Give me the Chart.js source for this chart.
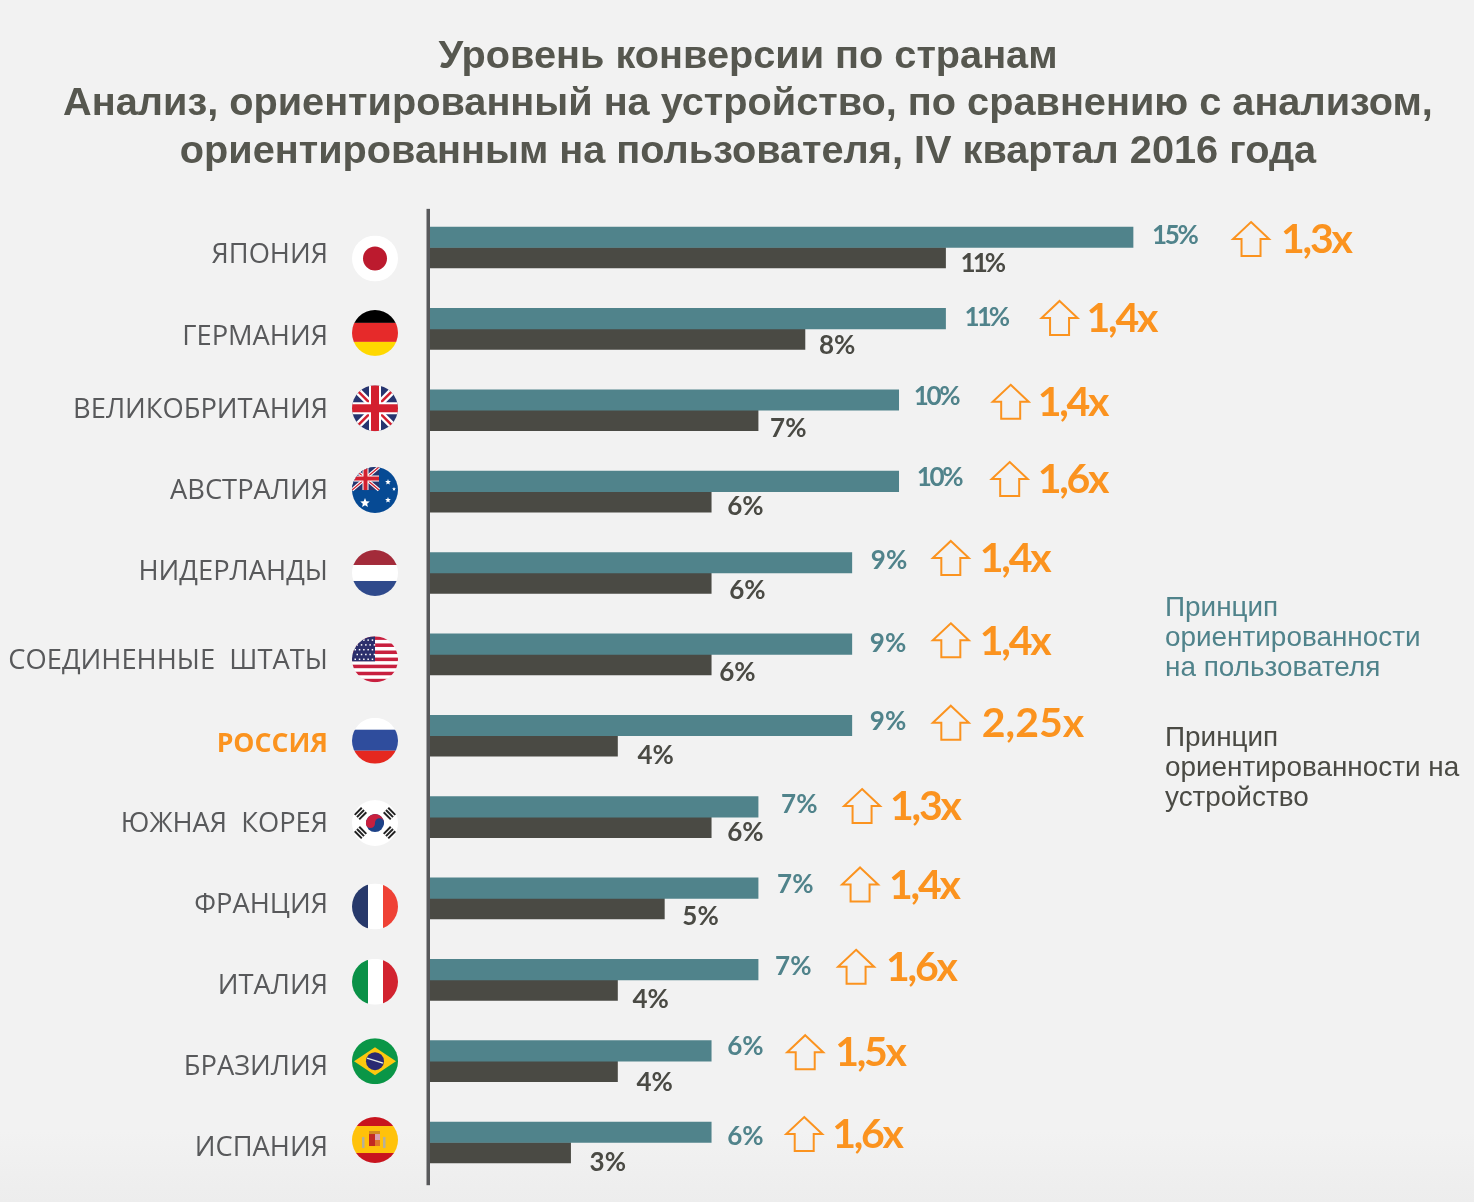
<!DOCTYPE html>
<html lang="ru">
<head>
<meta charset="utf-8">
<title>Уровень конверсии по странам</title>
<script src="https://cdn.jsdelivr.net/npm/chart.js@4/dist/chart.umd.min.js"></script>
<style>
  html, body { margin: 0; padding: 0; background: #f2f2f2; }
  body { height: 1202px; background: linear-gradient(#f2f2f2 1130px, #ededed 1202px); }
  canvas { display: block; }
</style>
</head>
<body>
<canvas id="chart" width="1474" height="1202"></canvas>
<script>
const countries = ["ЯПОНИЯ", "ГЕРМАНИЯ", "ВЕЛИКОБРИТАНИЯ", "АВСТРАЛИЯ", "НИДЕРЛАНДЫ", "СОЕДИНЕННЫЕ  ШТАТЫ",
  "РОССИЯ", "ЮЖНАЯ  КОРЕЯ", "ФРАНЦИЯ", "ИТАЛИЯ", "БРАЗИЛИЯ", "ИСПАНИЯ"];
const userCentric = [15, 11, 10, 10, 9, 9, 9, 7, 7, 7, 6, 6];
const deviceCentric = [11, 8, 7, 6, 6, 6, 4, 6, 5, 4, 4, 3];
const multipliers = ["1,3x", "1,4x", "1,4x", "1,6x", "1,4x", "1,4x", "2,25x", "1,3x", "1,4x", "1,6x", "1,5x", "1,6x"];
const flags = ["jp", "de", "gb", "au", "nl", "us", "ru", "kr", "fr", "it", "br", "es"];
const titleLines = ["Уровень конверсии по странам",
  "Анализ, ориентированный на устройство, по сравнению с анализом,",
  "ориентированным на пользователя, IV квартал 2016 года"];
const userLegend = ["Принцип", "ориентированности", "на пользователя"];
const deviceLegend = ["Принцип", "ориентированности на", "устройство"];

// the annotations in the picture are hand placed, so each row has its own nudge
const userDx = [19, 19, 15, 18, 19, 18, 18, 23, 19, 17, 16, 16];
const userDy = [-12, -11.5, -13.5, -14, -12.5, -10.5, -14.5, -12.5, -13.5, -13.5, -14.5, -6];
const deviceDx = [15, 14, 12, 16, 18, 8, 20, 16, 18, 15, 19, 19];
const deviceDy = [16, 16.5, 18.5, 15, 17.5, 18.5, 19.5, 15.5, 18.5, 19.5, 21.5, 20];
const arrowDx = [118, 114, 112, 111, 99, 99, 99, 104, 102, 98, 94, 93];
const arrowDy = [-8.5, -11, -8.5, -12.6, -15, -14, -13, -11, -14, -13, -9, -8.5];
const multDx = [30, 27, 27, 28, 29, 29, 31, 28, 29, 30, 30, 28];
const multDy = [1, 1, 1, 1, 1, 1, 1, 1, 1, 1, 1, 1];
const nameDy = [7.5, 8, 0, -0.6, -1, 7, 9, 7, 7, 6, 6, 5.5];
const flagDy = [11, 4, -2, -1.6, 0, 5, 5, 6, 8, 2, 0, -2.5];

const TEAL = "#50838b";
const DARK = "#4a4a44";
const ORANGE = "#fb931f";
const GREY = "#58595b";

function text(ctx, str, x, y, font, color, align, spacing) {
  ctx.font = font;
  ctx.fillStyle = color;
  ctx.textAlign = align || "left";
  ctx.textBaseline = "middle";
  ctx.letterSpacing = (spacing || 0) + "px";
  ctx.fillText(str, x, y);
  ctx.letterSpacing = "0px";
}

// the reference face has a much narrower "1" than Lato, tighten strings that hold one
function tighten(str, k) {
  const ones = str.split("1").length - 1;
  return Math.max(-3, -k * ones / str.length);
}

function arrow(ctx, cx, cy) {
  ctx.beginPath();
  ctx.moveTo(cx, cy - 17);
  ctx.lineTo(cx + 18, cy);
  ctx.lineTo(cx + 9.5, cy);
  ctx.lineTo(cx + 9.5, cy + 17);
  ctx.lineTo(cx - 9.5, cy + 17);
  ctx.lineTo(cx - 9.5, cy);
  ctx.lineTo(cx - 18, cy);
  ctx.closePath();
  ctx.strokeStyle = ORANGE;
  ctx.lineWidth = 2;
  ctx.stroke();
}

function band(ctx, x, y, w, h, c) {
  ctx.fillStyle = c;
  ctx.fillRect(x, y, w, h);
}

function line(ctx, x1, y1, x2, y2, w, c) {
  ctx.beginPath();
  ctx.moveTo(x1, y1);
  ctx.lineTo(x2, y2);
  ctx.lineWidth = w;
  ctx.strokeStyle = c;
  ctx.stroke();
}

function star(ctx, x, y, r, c) {
  ctx.fillStyle = c;
  ctx.beginPath();
  for (let i = 0; i < 10; i++) {
    const a = -Math.PI / 2 + i * Math.PI / 5;
    const d = i % 2 ? r * 0.45 : r;
    ctx.lineTo(x + Math.cos(a) * d, y + Math.sin(a) * d);
  }
  ctx.closePath();
  ctx.fill();
}

function unionJack(ctx, x, y, w, h, s) {
  band(ctx, x, y, w, h, "#27356f");
  line(ctx, x, y, x + w, y + h, 7 * s, "#fff");
  line(ctx, x + w, y, x, y + h, 7 * s, "#fff");
  line(ctx, x, y, x + w, y + h, 2.6 * s, "#d3202f");
  line(ctx, x + w, y, x, y + h, 2.6 * s, "#d3202f");
  band(ctx, x + w / 2 - 6 * s, y, 12 * s, h, "#fff");
  band(ctx, x, y + h / 2 - 6 * s, w, 12 * s, "#fff");
  band(ctx, x + w / 2 - 4 * s, y, 8 * s, h, "#d3202f");
  band(ctx, x, y + h / 2 - 4 * s, w, 8 * s, "#d3202f");
}

function trigram(ctx, cx, cy, angle) {
  ctx.save();
  ctx.translate(cx, cy);
  ctx.rotate(angle);
  ctx.fillStyle = "#222";
  for (let i = -1; i <= 1; i++) ctx.fillRect(-5, i * 3.2 - 1, 10, 2);
  ctx.restore();
}

function drawFlag(ctx, code, cx, cy) {
  const r = 23, x = cx - r, y = cy - r, d = r * 2;
  ctx.save();
  ctx.beginPath();
  ctx.arc(cx, cy, r, 0, Math.PI * 2);
  ctx.clip();
  if (code === "jp") {
    band(ctx, x, y, d, d, "#fff");
    ctx.fillStyle = "#bc1a2e";
    ctx.beginPath(); ctx.arc(cx, cy, 12, 0, Math.PI * 2); ctx.fill();
  } else if (code === "de") {
    band(ctx, x, y, d, 13, "#000");
    band(ctx, x, y + 13, d, 19, "#e62a2a");
    band(ctx, x, y + 32, d, 14, "#ffd800");
  } else if (code === "gb") {
    unionJack(ctx, x, y, d, d, 1);
  } else if (code === "au") {
    band(ctx, x, y, d, d, "#064a94");
    unionJack(ctx, x, y, 27, 23, 0.5);
    star(ctx, cx + 13, cy - 8, 3, "#fff");
    star(ctx, cx - 10, cy + 13, 5, "#fff");
    star(ctx, cx + 13, cy + 10, 3, "#fff");
    star(ctx, cx + 19, cy - 1, 2, "#fff");
  } else if (code === "nl") {
    band(ctx, x, y, d, 15, "#a32b3a");
    band(ctx, x, y + 15, d, 16, "#fff");
    band(ctx, x, y + 31, d, 15, "#2f4a8c");
  } else if (code === "us") {
    band(ctx, x, y, d, d, "#fff");
    for (let i = 0; i < 13; i += 2) band(ctx, x, y + i * d / 13, d, d / 13, "#c8203f");
    band(ctx, x, y, 23, 25, "#2b2f6c");
    ctx.fillStyle = "#fff";
    for (let row = 0; row < 5; row++) {
      for (let col = 0; col < 5; col++) {
        ctx.fillRect(x + 2.5 + col * 4.3 + (row % 2) * 2, y + 3 + row * 4.8, 1.5, 1.5);
      }
    }
  } else if (code === "ru") {
    band(ctx, x, y, d, 12, "#fff");
    band(ctx, x, y + 12, d, 21, "#2f4d9d");
    band(ctx, x, y + 33, d, 13, "#e5281f");
  } else if (code === "kr") {
    band(ctx, x, y, d, d, "#fff");
    ctx.fillStyle = "#1d4288";
    ctx.beginPath(); ctx.arc(cx, cy, 9, 0, Math.PI * 2); ctx.fill();
    ctx.fillStyle = "#c8203f";
    ctx.beginPath(); ctx.arc(cx, cy, 9, Math.PI * 0.95, Math.PI * 1.95); ctx.fill();
    ctx.beginPath(); ctx.arc(cx - 4.5, cy + 0.4, 4.5, 0, Math.PI * 2); ctx.fill();
    ctx.fillStyle = "#1d4288";
    ctx.beginPath(); ctx.arc(cx + 4.5, cy - 0.4, 4.5, 0, Math.PI * 2); ctx.fill();
    trigram(ctx, cx - 14.5, cy - 9.5, -Math.PI / 4);
    trigram(ctx, cx + 14.5, cy - 9.5, Math.PI / 4);
    trigram(ctx, cx - 14.5, cy + 9.5, Math.PI / 4);
    trigram(ctx, cx + 14.5, cy + 9.5, -Math.PI / 4);
  } else if (code === "fr") {
    band(ctx, x, y, 16, d, "#27396b");
    band(ctx, x + 16, y, 15, d, "#fff");
    band(ctx, x + 31, y, 15, d, "#ef4135");
  } else if (code === "it") {
    band(ctx, x, y, 16, d, "#0a9147");
    band(ctx, x + 16, y, 15, d, "#fff");
    band(ctx, x + 31, y, 15, d, "#d2232f");
  } else if (code === "br") {
    band(ctx, x, y, d, d, "#0a9647");
    ctx.fillStyle = "#fdc80f";
    ctx.beginPath();
    ctx.moveTo(cx - 21, cy); ctx.lineTo(cx, cy - 14); ctx.lineTo(cx + 21, cy); ctx.lineTo(cx, cy + 14);
    ctx.closePath(); ctx.fill();
    ctx.fillStyle = "#2a2a72";
    ctx.beginPath(); ctx.arc(cx, cy, 9, 0, Math.PI * 2); ctx.fill();
    line(ctx, cx - 8, cy - 3, cx + 8, cy + 2, 1.5, "#e8efe8");
  } else if (code === "es") {
    band(ctx, x, y, d, 9, "#c8141e");
    band(ctx, x + 0, y + 9, d, 27, "#ffc20a");
    band(ctx, x, y + 36, d, 10, "#c8141e");
    band(ctx, cx - 6, cy - 6, 6, 12, "#c22a22");
    band(ctx, cx, cy - 6, 5, 6, "#d9a0b0");
    band(ctx, cx, cy, 5, 6, "#e0762a");
    band(ctx, cx - 13, cy - 3, 2.5, 11, "#b5b09a");
    band(ctx, cx + 8, cy - 3, 2.5, 11, "#b5b09a");
    band(ctx, cx - 6, cy - 9, 11, 3, "#d28a20");
  }
  ctx.restore();
}

// axis line, country names, flags, value labels, multipliers and the key
const annotations = {
  id: "annotations",
  afterDatasetsDraw(chart) {
    const { ctx, chartArea, scales: { x: xs, y: ys } } = chart;
    ctx.save();
    band(ctx, chartArea.left - 3.5, chartArea.top + 2, 3.5, chartArea.height, GREY);
    countries.forEach((name, i) => {
      const rowY = ys.getPixelForValue(i);
      const isRussia = name === "РОССИЯ";
      const nameFont = isRussia ? "700 26.6px 'Open Sans'" : "400 27.3px 'Open Sans'";
      text(ctx, name, 328, rowY + nameDy[i], nameFont, isRussia ? ORANGE : GREY, "right");
      drawFlag(ctx, flags[i], 375, rowY + flagDy[i]);
      const endUser = xs.getPixelForValue(userCentric[i]);
      const endDevice = xs.getPixelForValue(deviceCentric[i]);
      const userText = userCentric[i] + "%";
      const deviceText = deviceCentric[i] + "%";
      text(ctx, userText, endUser + userDx[i], rowY + userDy[i], "700 26px Lato", TEAL, "left", tighten(userText, 7));
      text(ctx, deviceText, endDevice + deviceDx[i], rowY + deviceDy[i], "700 26px Lato", DARK, "left", tighten(deviceText, 7));
      const ax = endUser + arrowDx[i];
      const ay = rowY + arrowDy[i];
      arrow(ctx, ax, ay);
      text(ctx, multipliers[i], ax + multDx[i], ay + multDy[i], "700 41px Lato", ORANGE, "left", tighten(multipliers[i], 9));
    });
    userLegend.forEach((l, i) => text(ctx, l, 1165, 608 + i * 30, "27.9px 'Liberation Sans'", TEAL));
    deviceLegend.forEach((l, i) => text(ctx, l, 1165, 738 + i * 30, "27.9px 'Liberation Sans'", DARK));
    ctx.restore();
  }
};

new Chart(document.getElementById("chart"), {
  type: "bar",
  plugins: [annotations],
  data: {
    labels: countries,
    datasets: [
      { label: "Принцип ориентированности на пользователя", data: userCentric, backgroundColor: TEAL, barThickness: 20.5 },
      { label: "Принцип ориентированности на устройство", data: deviceCentric, backgroundColor: DARK, barThickness: 20.5 },
    ],
  },
  options: {
    indexAxis: "y",
    responsive: false,
    animation: false,
    layout: { padding: { left: 22, bottom: 18.8 } },
    plugins: {
      legend: { display: false },
      tooltip: { enabled: false },
      title: {
        display: true,
        text: titleLines,
        color: "#56574f",
        font: { family: "'Liberation Sans'", size: 39.7, weight: "700", lineHeight: 1.197 },
        padding: { top: 33, bottom: 31.3 },
      },
    },
    scales: {
      x: { display: false, min: 0, max: 22.275 },
      y: {
        grid: { display: false },
        border: { display: false },
        ticks: { display: false },
        afterFit(scale) { scale.width = 408; },
      },
    },
  },
});
</script>
</body>
</html>
